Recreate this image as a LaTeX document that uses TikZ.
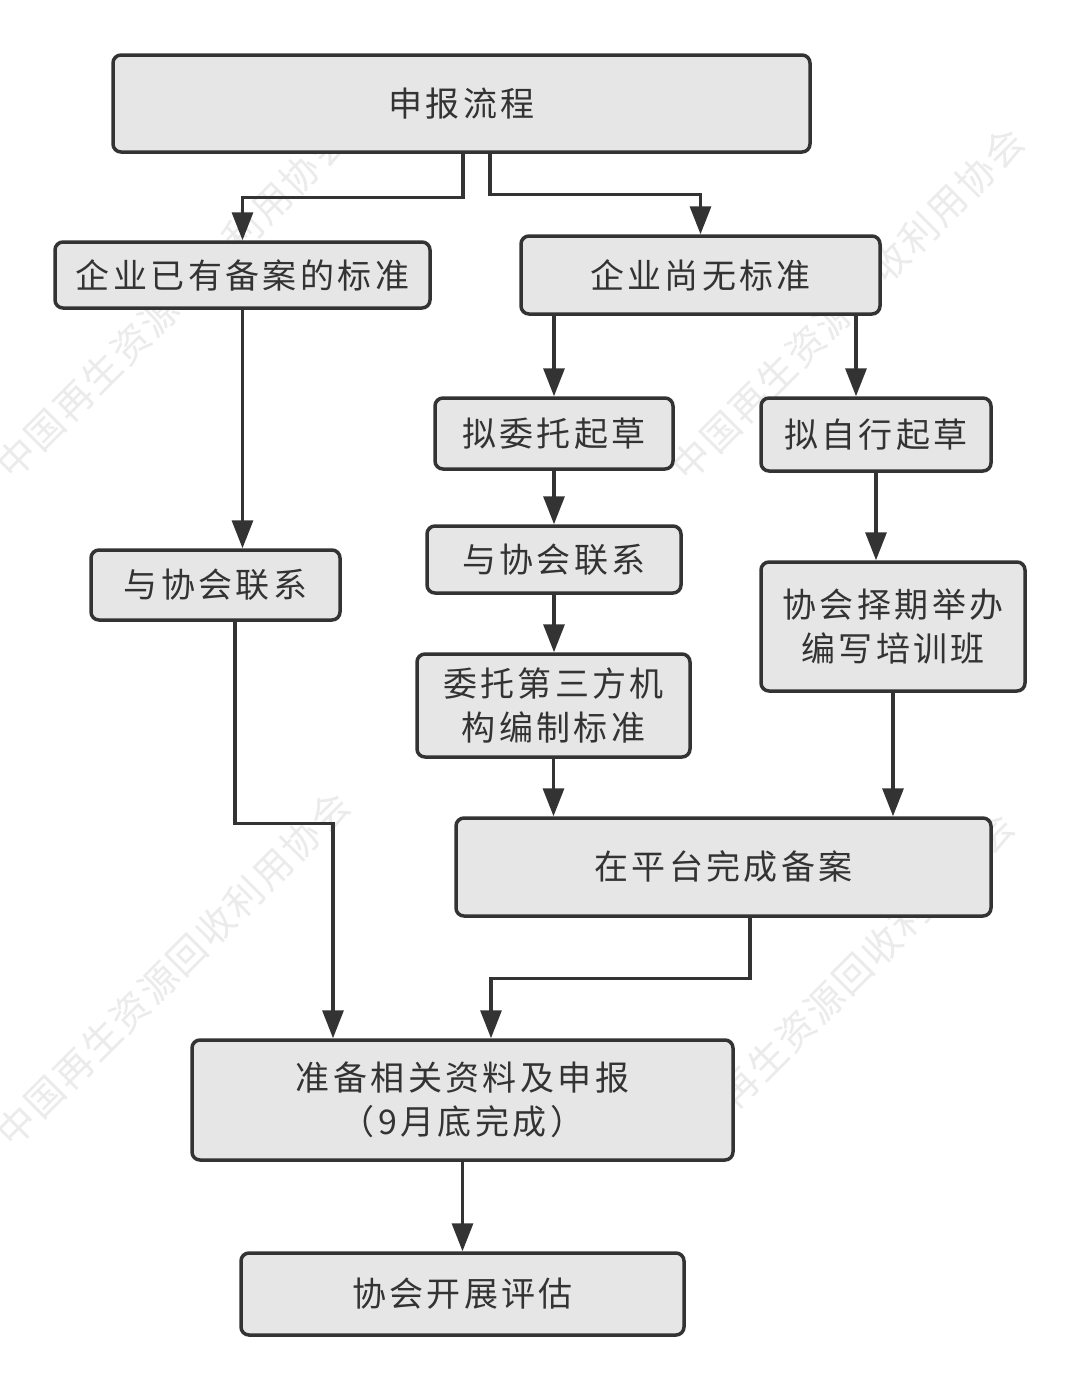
\documentclass[tikz,border=0pt]{standalone}
\usepackage{fontspec}
\usetikzlibrary{arrows.meta}
\newfontfamily\cjk[LetterSpace=10]{Noto Sans CJK SC}
\newfontfamily\wmfont[LetterSpace=6]{Noto Sans CJK SC}
\definecolor{boxfill}{HTML}{E6E6E6}
\definecolor{ink}{HTML}{333333}
\definecolor{wmark}{HTML}{EBEBEB}
\tikzset{
  flowbox/.style={draw=ink, fill=boxfill, line width=3.5pt, rounded corners=8pt,
    text=ink, align=center, inner sep=0pt,
    font=\cjk\fontsize{34}{44}\selectfont},
  arr/.style={draw=ink, line width=3.3pt,
    -{Triangle[length=28pt,width=21pt]}},
  wmtext/.style={text=wmark, rotate=45, font=\wmfont\fontsize{38}{40}\selectfont, inner sep=0pt}
}
\begin{document}
\begin{tikzpicture}[x=1pt,y=-1pt]
\useasboundingbox (0,0) rectangle (1080,1390);
\fill[white] (0,0) rectangle (1080,1390);
% watermark (only the parts not hidden behind the boxes)
\node[wmtext] (wm1a) at (88,387) {中国再生资源};
\node[wmtext] (wm1b) at (286,189) {利用协会};
\node[wmtext] (wm2a) at (763,389) {中国再生资源};
\node[wmtext] (wm2b) at (947,205) {收利用协会};
\node[wmtext] (wm3) at (173,969) {中国再生资源回收利用协会};
\node[wmtext] (wm4a) at (824.5,1002.5) {再生资源回收利};
\node[wmtext] (wm4b) at (994,833) {会};
% boxes
\node[flowbox, minimum width=697pt, minimum height=97pt] (top) at (461.5,103.5) {申报流程};
\node[flowbox, minimum width=375pt, minimum height=66pt] (b2) at (242.5,275) {企业已有备案的标准};
\node[flowbox, minimum width=359pt, minimum height=78pt] (b3) at (700.5,275) {企业尚无标准};
\node[flowbox, minimum width=238pt, minimum height=71pt] (b4) at (554,433.5) {拟委托起草};
\node[flowbox, minimum width=230pt, minimum height=73pt] (b5) at (876,434.5) {拟自行起草};
\node[flowbox, minimum width=249pt, minimum height=70pt] (b6) at (215.5,585) {与协会联系};
\node[flowbox, minimum width=254pt, minimum height=67pt] (b7) at (554,559.5) {与协会联系};
\node[flowbox, minimum width=264pt, minimum height=129pt] (b8) at (893,626.5) {协会择期举办\\编写培训班};
\node[flowbox, minimum width=273pt, minimum height=103pt] (b9) at (553.5,705.5) {委托第三方机\\构编制标准};
\node[flowbox, minimum width=535pt, minimum height=98pt] (b10) at (723.5,867) {在平台完成备案};
\node[flowbox, minimum width=541pt, minimum height=120pt] (b11) at (462.5,1100) {准备相关资料及申报\\（9月底完成）};
\node[flowbox, minimum width=443pt, minimum height=82pt] (b12) at (462.5,1294) {协会开展评估};
% connectors
\draw[arr] ([xshift=1.5pt]top.south) -- ++(0,44) -| (b2.north);
\draw[arr] ([xshift=28.5pt]top.south) -- ++(0,41) -| (b3.north);
\draw[arr] (b2.south) -- (b2.south |- b6.north);
\draw[arr] (b4.north |- b3.south) -- (b4.north);
\draw[arr] ([xshift=155.5pt]b3.south) -- ([xshift=155.5pt]b3.south |- b5.north);
\draw[arr] (b4.south) -- (b7.north);
\draw[arr] (b7.south) -- (b7.south |- b9.north);
\draw[arr] (b9.south) -- (b9.south |- b10.north);
\draw[arr] (b5.south) -- (b5.south |- b8.north);
\draw[arr] (b8.south) -- (b8.south |- b10.north);
\draw[arr] ([xshift=19.5pt]b6.south) -- ++(0,202) -| ([xshift=-129.5pt]b11.north);
\draw[arr] ([xshift=26.5pt]b10.south) -- ++(0,61) -| ([xshift=28.5pt]b11.north);
\draw[arr] (b11.south) -- (b12.north);
\end{tikzpicture}
\end{document}
